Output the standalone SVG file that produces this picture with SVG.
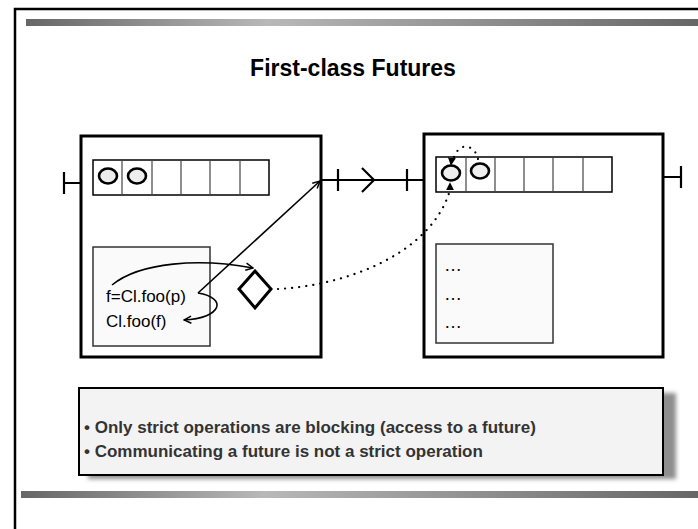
<svg xmlns="http://www.w3.org/2000/svg" width="698" height="529" viewBox="0 0 698 529">
  <defs>
    <linearGradient id="barGrad" x1="0" y1="0" x2="1" y2="0">
      <stop offset="0" stop-color="#666666"/>
      <stop offset="0.36" stop-color="#b8b8b8"/>
      <stop offset="1" stop-color="#666666"/>
    </linearGradient>
    <filter id="shadowBlur" x="-5%" y="-20%" width="110%" height="140%">
      <feGaussianBlur stdDeviation="2"/>
    </filter>
    <marker id="openHead" viewBox="0 0 10 10" refX="9" refY="5" markerWidth="9" markerHeight="9" orient="auto" markerUnits="userSpaceOnUse">
      <path d="M1,1 L9,5 L1,9" fill="none" stroke="#000" stroke-width="1.6"/>
    </marker>
    <marker id="solidHead" viewBox="0 0 10 10" refX="9" refY="5" markerWidth="8" markerHeight="8" orient="auto" markerUnits="userSpaceOnUse">
      <path d="M0,0 L10,5 L0,10 Z" fill="#000"/>
    </marker>
  </defs>
  <style>
    .box { fill: #ffffff; stroke: #000; stroke-width: 3; }
    .inner { fill: #fafafa; stroke: #333; stroke-width: 1.5; }
    .queue { fill: none; stroke: #000; stroke-width: 1.5; }
    .cell { stroke: #444; stroke-width: 1.2; }
    .req { fill: #eeeeee; stroke: #000; stroke-width: 2.6; }
    .stub { fill: none; stroke: #000; stroke-width: 2.2; }
    .code { font-family: "Liberation Sans", Arial, sans-serif; font-size: 17px; fill: #000; }
    .dots { font-family: "Liberation Sans", Arial, sans-serif; font-size: 18px; fill: #000; }
    .title { font-family: "Liberation Sans", Arial, sans-serif; font-size: 23px; font-weight: bold; fill: #000; }
    .note { font-family: "Liberation Sans", Arial, sans-serif; font-size: 17px; font-weight: bold; fill: #333; }
    .wire { fill: none; stroke: #000; stroke-width: 1.6; }
    .dotted { fill: none; stroke: #000; stroke-width: 2.2; stroke-dasharray: 0.1 7; stroke-linecap: round; }
  </style>

  <!-- page frame and decorative bars -->
  <rect x="0" y="0" width="698" height="529" fill="#ffffff"/>
  <path d="M15,529 V9 H698" fill="none" stroke="#000" stroke-width="2.5"/>
  <rect x="26" y="19" width="672" height="7" fill="url(#barGrad)"/>
  <rect x="21" y="491" width="677" height="7" fill="url(#barGrad)"/>

  <text class="title" x="353" y="76" text-anchor="middle">First-class Futures</text>

  <!-- active object A -->
  <g id="objectA">
    <rect class="box" x="81" y="136" width="240" height="221"/>
    <path class="stub" d="M64,172 V194 M64,183 H81"/>
    <rect class="queue" x="93" y="160" width="176" height="35"/>
    <path class="cell" d="M122,160 V195 M152,160 V195 M181,160 V195 M210,160 V195 M240,160 V195"/>
    <ellipse class="req" cx="108" cy="176" rx="9" ry="7.5"/>
    <ellipse class="req" cx="137" cy="176" rx="9" ry="7.5"/>
    <rect class="inner" x="93" y="247" width="117" height="99"/>
    <text class="code" x="106" y="302">f=Cl.foo(p)</text>
    <text class="code" x="106" y="327" font-size="17.5">Cl.foo(f)</text>
  </g>

  <!-- future placeholder -->
  <g id="future">
    <path d="M255,271 L271,289 L255,308 L239,289 Z" fill="#ffffff" stroke="#000" stroke-width="3" stroke-linejoin="miter"/>
  </g>

  <!-- active object B -->
  <g id="objectB">
    <rect class="box" x="424" y="134" width="239" height="223"/>
    <path class="stub" d="M681,166 V188 M663,177 H681"/>
    <rect class="queue" x="436" y="157" width="176" height="35"/>
    <path class="cell" d="M466,157 V192 M495,157 V192 M524,157 V192 M553,157 V192 M583,157 V192"/>
    <ellipse class="req" cx="451" cy="173" rx="9" ry="7.5"/>
    <ellipse class="req" cx="480" cy="171" rx="9" ry="7.5"/>
    <rect class="inner" x="436" y="244" width="117" height="99"/>
    <text class="dots" x="444" y="271">…</text>
    <text class="dots" x="444" y="300">…</text>
    <text class="dots" x="444" y="328">…</text>
  </g>

  <!-- connectors -->
  <g id="connectors">
    <!-- request channel between the two objects -->
    <path class="stub" d="M321,180 H424 M338,169 V191 M407,169 V191 M362,168 L374,180 L362,192"/>
    <!-- request sent from f=Cl.foo(p) -->
    <path class="wire" d="M198,293 L320,181" marker-end="url(#openHead)"/>
    <!-- future created by the call -->
    <path class="wire" d="M112,285 C140,262 200,258 253,268" marker-end="url(#openHead)"/>
    <!-- future passed on to the next call -->
    <path class="wire" d="M198,293 C228,298 222,318 184,320" marker-end="url(#openHead)"/>
    <!-- future reference travelling to the request -->
    <path class="dotted" d="M278,289 C350,285 432,252 450,190"/>
    <path d="M450,196 L450,183" fill="none" stroke="none" marker-end="url(#solidHead)"/>
    <path class="dotted" d="M478,159 C476,146 459,139 453,160"/>
    <path d="M452,157 L451,165" fill="none" stroke="none" marker-end="url(#solidHead)"/>
  </g>

  <!-- remark box -->
  <g id="remarks">
    <rect x="88" y="393" width="588" height="86" fill="#8f8f8f" filter="url(#shadowBlur)"/>
    <rect x="79" y="388" width="584" height="87" fill="#f3f3f3" stroke="#000" stroke-width="2"/>
    <text class="note" x="84" y="433">• Only strict operations are blocking (access to a future)</text>
    <text class="note" x="84" y="457">• Communicating a future is not a strict operation</text>
  </g>
</svg>
